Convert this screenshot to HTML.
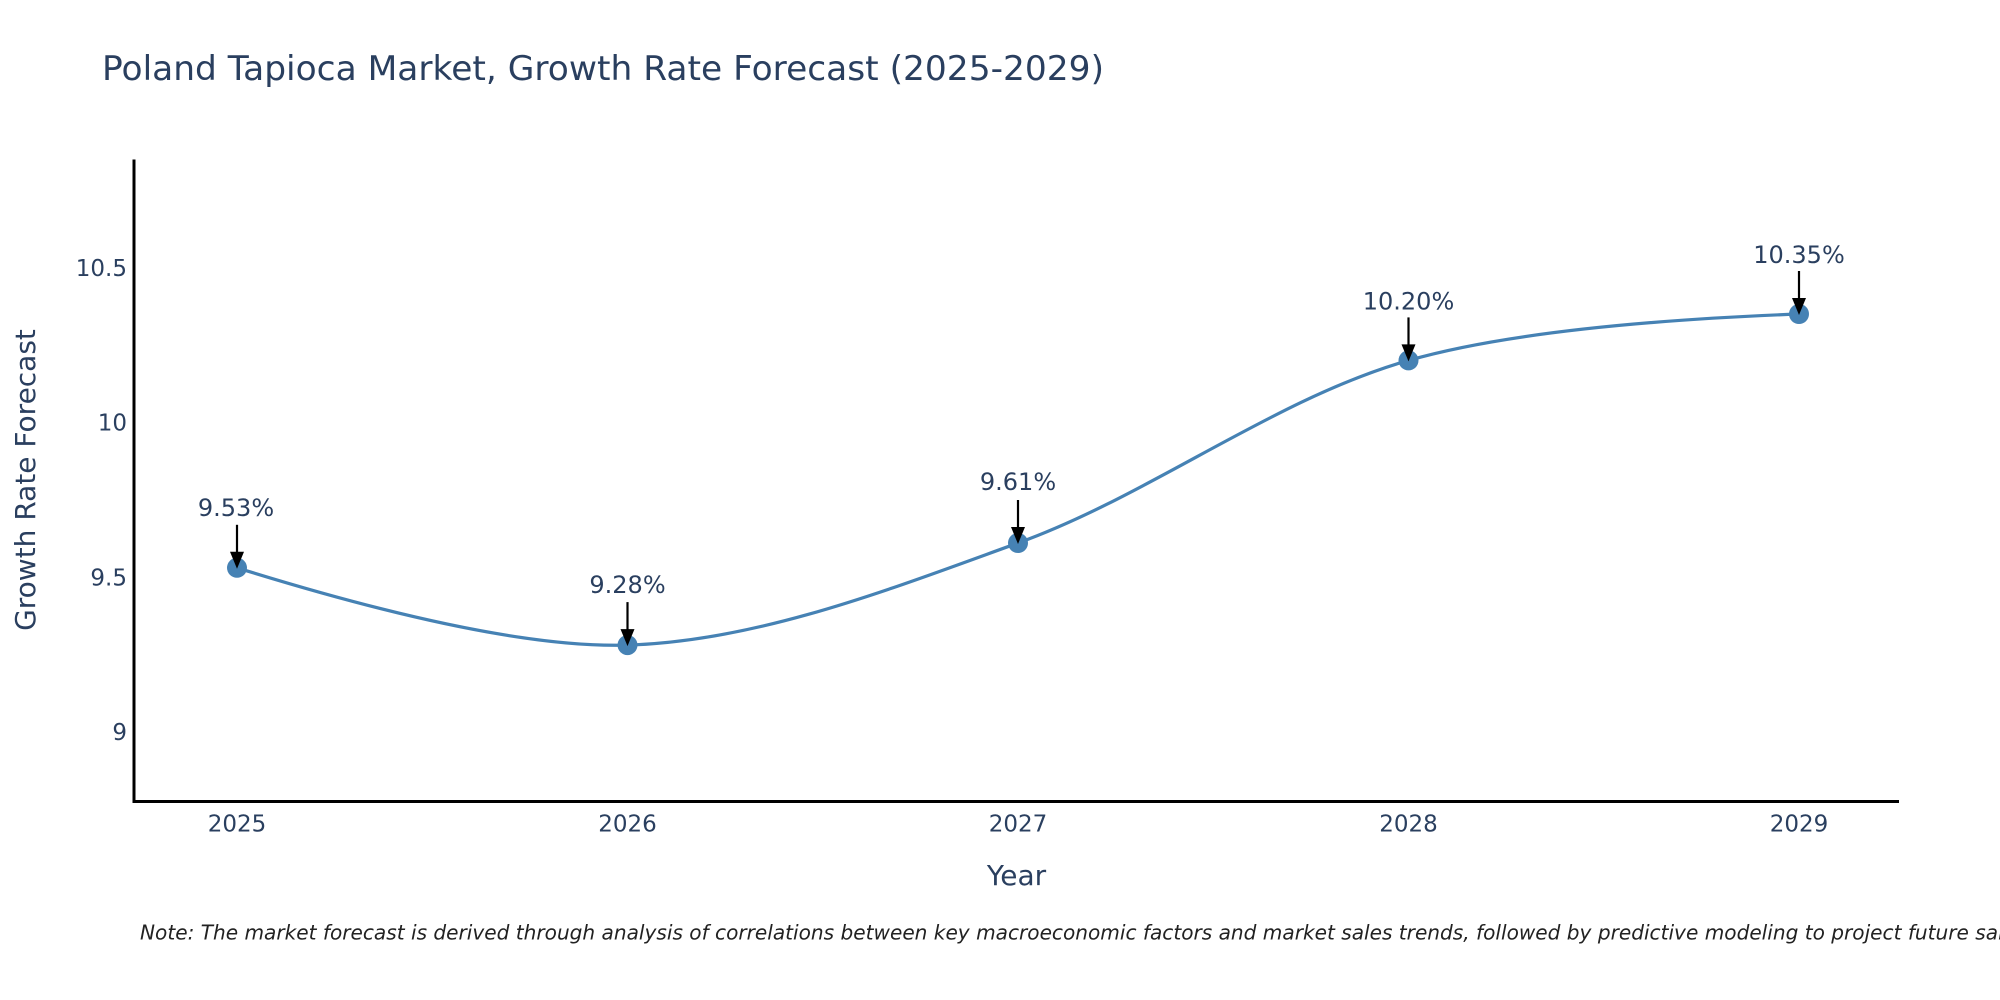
<!DOCTYPE html>
<html>
<head>
<meta charset="utf-8">
<style>
  html, body { margin: 0; padding: 0; background: #ffffff; overflow: hidden; }
  svg { display: block; }
  text { font-family: "DejaVu Sans", "Liberation Sans", sans-serif; }
</style>
</head>
<body>
<svg width="2000" height="1000" viewBox="0 0 2000 1000" xmlns="http://www.w3.org/2000/svg">
  <rect x="0" y="0" width="2000" height="1000" fill="#ffffff"/>

  <!-- Title -->
  <text x="102" y="80" font-size="34" fill="#2a3f5f" textLength="1002" lengthAdjust="spacingAndGlyphs">Poland Tapioca Market, Growth Rate Forecast (2025-2029)</text>

  <!-- Curve (spline) -->
  <defs>
    <clipPath id="plotclip">
      <rect x="134" y="159" width="1766" height="643"/>
    </clipPath>
  </defs>
  <g clip-path="url(#plotclip)">
    <path d="M237,567.8 Q497.78,649.01 627.5,645.1 C758.12,641.16 889.91,589.26 1018,543.0 C1150.38,495.19 1275.21,398.41 1408.5,360.4 Q1535.8,324.09 1799,314.0"
          fill="none" stroke="#4682b4" stroke-width="3.2" stroke-linejoin="round" stroke-linecap="round"/>
    <!-- Markers -->
    <circle cx="237" cy="567.8" r="10" fill="#4682b4"/>
    <circle cx="627.5" cy="645.1" r="10" fill="#4682b4"/>
    <circle cx="1018" cy="543.0" r="10" fill="#4682b4"/>
    <circle cx="1408.5" cy="360.4" r="10" fill="#4682b4"/>
    <circle cx="1799" cy="314.0" r="10" fill="#4682b4"/>
  </g>

  <!-- Axes lines -->
  <line x1="134" y1="159.5" x2="134" y2="803" stroke="#000" stroke-width="3"/>
  <line x1="132.5" y1="801.5" x2="1899" y2="801.5" stroke="#000" stroke-width="3"/>

  <!-- Y tick labels -->
  <g font-size="23" fill="#2a3f5f" text-anchor="end">
    <text x="127" y="276">10.5</text>
    <text x="127" y="430.6">10</text>
    <text x="127" y="585.4">9.5</text>
    <text x="127" y="740.1">9</text>
  </g>

  <!-- X tick labels -->
  <g font-size="23" fill="#2a3f5f" text-anchor="middle">
    <text x="237" y="831.7">2025</text>
    <text x="627.5" y="831.7">2026</text>
    <text x="1018" y="831.7">2027</text>
    <text x="1408.5" y="831.7">2028</text>
    <text x="1799" y="831.7">2029</text>
  </g>

  <!-- Axis titles -->
  <text x="1016.5" y="885" font-size="28" fill="#2a3f5f" text-anchor="middle">Year</text>
  <text transform="translate(35,480) rotate(-90)" font-size="28" fill="#2a3f5f" text-anchor="middle">Growth Rate Forecast</text>

  <!-- Annotations -->
  <g font-size="24" fill="#2a3f5f" text-anchor="middle">
    <text x="236" y="515.8">9.53%</text>
    <text x="627.5" y="593.1">9.28%</text>
    <text x="1018" y="490">9.61%</text>
    <text x="1408.5" y="309.4">10.20%</text>
    <text x="1799" y="263">10.35%</text>
  </g>
  <g stroke="#000" stroke-width="2.2">
    <line x1="237" y1="524.8" x2="237" y2="554"/>
    <line x1="627.5" y1="602.1" x2="627.5" y2="631"/>
    <line x1="1018" y1="500" x2="1018" y2="529"/>
    <line x1="1408.5" y1="317.4" x2="1408.5" y2="346"/>
    <line x1="1799" y1="271" x2="1799" y2="300"/>
  </g>
  <g fill="#000">
    <polygon points="230,551.8 244,551.8 237,568.8"/>
    <polygon points="620.5,629.1 634.5,629.1 627.5,646.1"/>
    <polygon points="1011,527 1025,527 1018,544"/>
    <polygon points="1401.5,344.4 1415.5,344.4 1408.5,361.4"/>
    <polygon points="1792,298 1806,298 1799,315"/>
  </g>

  <!-- Note -->
  <text x="140" y="939.5" font-size="20.1" font-style="italic" fill="#222222">Note: The market forecast is derived through analysis of correlations between key macroeconomic factors and market sales trends, followed by predictive modeling to project future sales.</text>
</svg>
</body>
</html>
